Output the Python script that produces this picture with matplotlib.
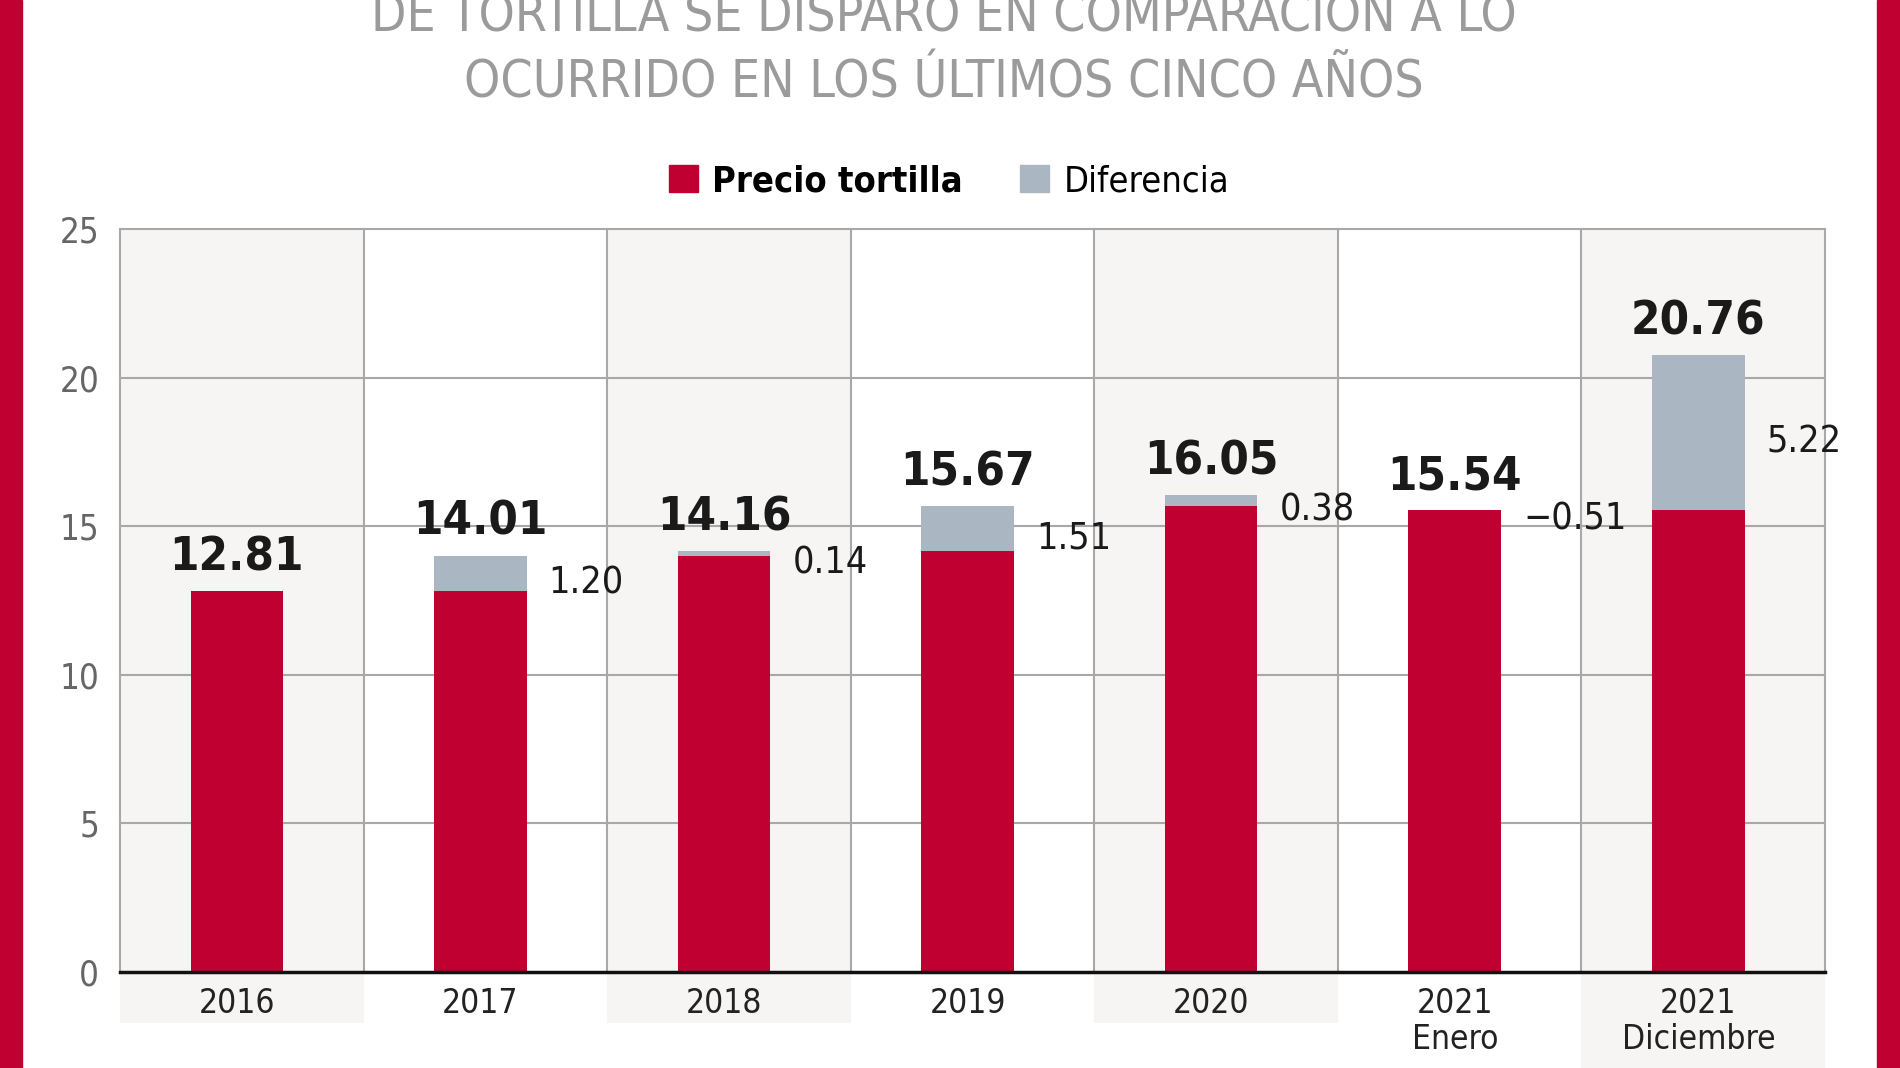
import matplotlib.pyplot as plt
from matplotlib.patches import Patch, Rectangle

plt.rcParams['font.family'] = ['DejaVu Sans']
plt.rcParams['font.stretch'] = 'condensed'

# datos
categorias = ['2016', '2017', '2018', '2019', '2020', '2021\nEnero', '2021\nDiciembre']
precio = [12.81, 14.01, 14.16, 15.67, 16.05, 15.54, 20.76]
base_roja = [12.81, 12.81, 14.01, 14.16, 15.67, 15.54, 15.54]
diferencia = [None, 1.20, 0.14, 1.51, 0.38, -0.51, 5.22]

rojo = '#c10032'
gris = '#aab6c1'
fondo = '#f7f5f4'

fig = plt.figure(figsize=(19, 10.68), dpi=100)
fig.patch.set_facecolor('white')

# bordes rojos
fig.patches.append(Rectangle((0, 0), 22 / 1900, 1, transform=fig.transFigure, color=rojo, zorder=0))
fig.patches.append(Rectangle((1877 / 1900, 0), 23 / 1900, 1, transform=fig.transFigure, color=rojo, zorder=0))

# titulo (la primera linea queda cortada arriba, como en el original)
fig.text(0.497, 1 - 18 / 1068, 'DE TORTILLA SE DISPARÓ EN COMPARACIÓN A LO',
         ha='center', va='center', fontsize=37, color='#9b9b9b')
fig.text(0.497, 1 - 84 / 1068, 'OCURRIDO EN LOS ÚLTIMOS CINCO AÑOS',
         ha='center', va='center', fontsize=37, color='#9b9b9b')

ax = fig.add_axes([120 / 1900, 1 - 972 / 1068, (1825 - 120) / 1900, (972 - 229) / 1068])
ax.set_facecolor('white')
x = list(range(len(categorias)))
off = 0.02  # las barras van un poco a la izquierda del centro de la columna

# columnas alternas
for i in x:
    if i % 2 == 0:
        low = -0.14 if i == 6 else -0.069
        sp = ax.axvspan(i - 0.5 + off, i + 0.5 + off, ymin=low, ymax=1, color=fondo, zorder=0, lw=0)
        sp.set_clip_on(False)

# grid
for b in [i - 0.5 + off for i in x] + [len(x) - 0.5 + off]:
    ax.axvline(b, color='#a8a8a8', lw=1.5, zorder=1, clip_on=False)
for yv in [5, 10, 15, 20, 25]:
    ax.axhline(yv, color='#a8a8a8', lw=1.5, zorder=1, clip_on=False)

# barras
ancho = 0.38
ax.bar(x, base_roja, width=ancho, color=rojo, zorder=3)
dif_pos = [max(p - b, 0) for p, b in zip(precio, base_roja)]
ax.bar(x, dif_pos, bottom=base_roja, width=ancho, color=gris, zorder=3)

for i in x:
    tope = max(precio[i], base_roja[i])
    ax.annotate(f'{precio[i]:.2f}', (i, tope), xytext=(0, 15), textcoords='offset points',
                ha='center', va='baseline', fontsize=34, fontweight='bold', color='#1a1a1a')
    d = diferencia[i]
    if d is not None:
        ymid = (base_roja[i] + tope) / 2
        ax.annotate(f'{d:.2f}'.replace('-', '\u2212'), (i + ancho / 2 + 0.09, ymid),
                    xytext=(0, -7), textcoords='offset points',
                    ha='left', va='center', fontsize=27, color='#1a1a1a')

ax.set_xlim(-0.5 + off, 6.5 + off)
ax.set_ylim(0, 25)
ax.set_yticks([0, 5, 10, 15, 20, 25])
ax.set_xticks(x)
ax.set_xticklabels(categorias, fontsize=24, color='#222222', linespacing=1.1)
ax.tick_params(axis='y', length=0, pad=15, labelsize=25, labelcolor='#666666')
ax.tick_params(axis='x', length=0, pad=11)
for s in ['top', 'right', 'left']:
    ax.spines[s].set_visible(False)
ax.spines['bottom'].set_color('#111111')
ax.spines['bottom'].set_linewidth(2.5)
ax.spines['bottom'].set_zorder(4)

# leyenda
handles = [Patch(color=rojo), Patch(color=gris)]
leg = fig.legend(handles, ['Precio tortilla', 'Diferencia'], loc='center',
                 bbox_to_anchor=(0.4995, 1 - 181 / 1068), ncol=2, frameon=False,
                 fontsize=26, handlelength=0.8, handleheight=0.8,
                 handletextpad=0.4, columnspacing=1.6)
leg.get_texts()[0].set_fontweight('bold')

fig.savefig('out.png', dpi=100)
